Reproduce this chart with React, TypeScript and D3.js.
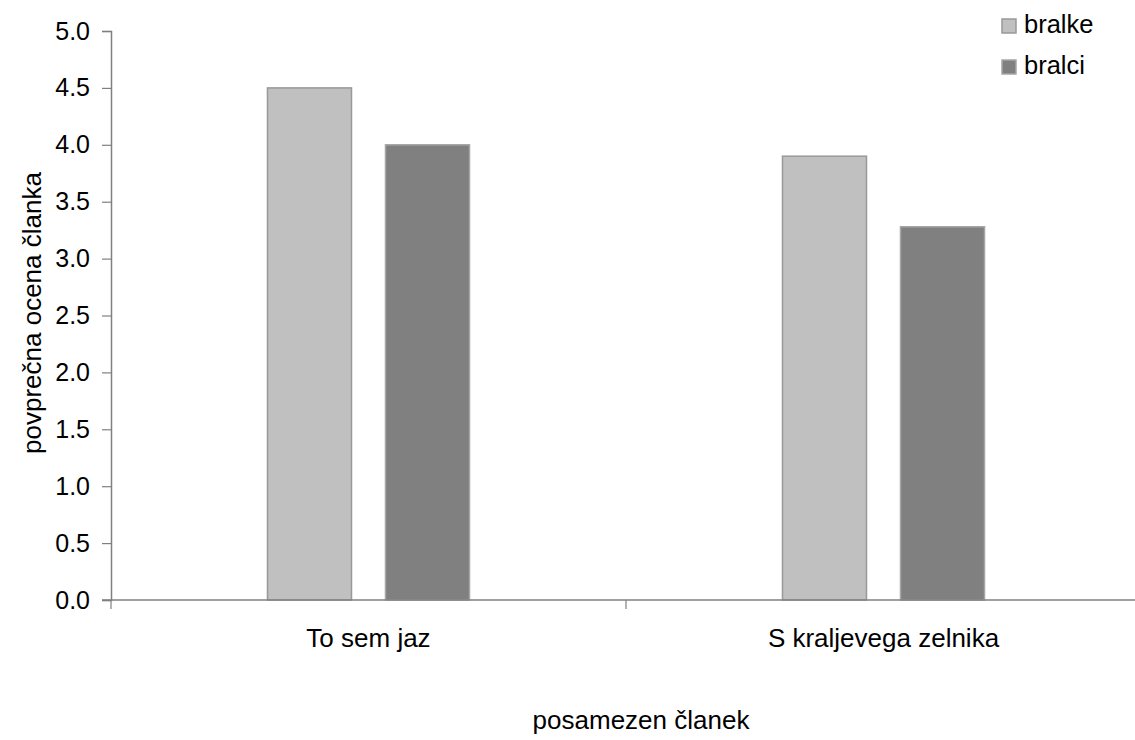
import React, { useEffect, useRef } from 'react';
import * as d3 from 'd3';

const categories = ['To sem jaz', 'S kraljevega zelnika'];
const seriesNames = ['bralke', 'bralci'];
const bralke = [4.5, 3.9];
const bralci = [4.0, 3.28];
const yTicks = [0, 0.5, 1, 1.5, 2, 2.5, 3, 3.5, 4, 4.5, 5];

const fills = ['#c0c0c0', '#808080'];
const strokes = ['#999999', '#a6a6a6'];

const W = 1135;
const H = 740;

const App: React.FC = () => {
  const svgRef = useRef<SVGSVGElement | null>(null);

  useEffect(() => {
    const svg = d3.select(svgRef.current);
    svg.selectAll('*').remove();

    const margin = { left: 111, top: 31 };
    const plotRight = 1141;
    const plotBottom = 600;

    const x = d3.scaleBand<string>()
      .domain(categories)
      .range([margin.left, plotRight]);

    // two bars per category, ~84px wide with a 34px gap
    const inner = d3.scaleBand<string>()
      .domain(seriesNames)
      .range([0, x.bandwidth()])
      .paddingInner(0.288)
      .paddingOuter(1.326);

    const y = d3.scaleLinear()
      .domain([0, 5])
      .range([plotBottom, margin.top]);

    const font = '"Liberation Sans", Arial, sans-serif';

    // Bars
    const values = [bralke, bralci];
    categories.forEach((c, ci) => {
      seriesNames.forEach((s, si) => {
        const v = values[si][ci];
        svg.append('rect')
          .attr('x', x(c)! + inner(s)!)
          .attr('y', y(v))
          .attr('width', inner.bandwidth())
          .attr('height', y(0) - y(v))
          .attr('fill', fills[si])
          .attr('stroke', strokes[si])
          .attr('stroke-width', 1.5);
      });
    });

    // Y axis
    const yAxis = svg.append('g')
      .attr('transform', `translate(${margin.left},0)`)
      .call(d3.axisLeft(y).tickValues(yTicks).tickFormat(d3.format('.1f')).tickSize(9).tickPadding(12));
    yAxis.select('.domain').attr('stroke', '#808080').attr('stroke-width', 1.5);
    yAxis.selectAll('.tick line').attr('stroke', '#808080').attr('stroke-width', 1.2);
    yAxis.selectAll('.tick text')
      .attr('fill', '#000')
      .attr('font-size', '25px')
      .attr('font-family', font);

    // X axis
    const xAxis = svg.append('g')
      .attr('transform', `translate(0,${plotBottom})`);
    xAxis.append('line')
      .attr('x1', margin.left - 9).attr('x2', plotRight)
      .attr('stroke', '#808080').attr('stroke-width', 1.5);
    [...categories.map(c => x(c)!), plotRight].forEach(px => {
      xAxis.append('line')
        .attr('x1', px).attr('x2', px).attr('y1', 0).attr('y2', 9)
        .attr('stroke', '#808080').attr('stroke-width', 1.2);
    });
    categories.forEach(c => {
      xAxis.append('text')
        .attr('x', x(c)! + x.bandwidth() / 2)
        .attr('y', 47)
        .attr('text-anchor', 'middle')
        .attr('font-size', '26px')
        .attr('font-family', font)
        .text(c);
    });

    // Axis titles
    svg.append('text')
      .attr('x', 641)
      .attr('y', 729)
      .attr('text-anchor', 'middle')
      .attr('font-size', '26px')
      .attr('font-family', font)
      .text('posamezen članek');

    svg.append('text')
      .attr('transform', `translate(41,313) rotate(-90)`)
      .attr('text-anchor', 'middle')
      .attr('font-size', '26px')
      .attr('font-family', font)
      .text('povprečna ocena članka');

    // Legend
    const legend = svg.append('g').attr('transform', 'translate(1002,19)');
    seriesNames.forEach((s, i) => {
      const g = legend.append('g').attr('transform', `translate(0,${i * 41})`);
      g.append('rect')
        .attr('width', 14).attr('height', 14)
        .attr('fill', fills[i])
        .attr('stroke', strokes[i])
        .attr('stroke-width', 1.5);
      g.append('text')
        .attr('x', 22).attr('y', 14)
        .attr('font-size', '25.5px')
        .attr('font-family', font)
        .text(s);
    });
  }, []);

  return (
    <div style={{ position: 'absolute', left: 0, top: 0 }}>
      <svg ref={svgRef} width={W} height={H} style={{ display: 'block', background: '#fff' }} />
    </div>
  );
};

export default App;
